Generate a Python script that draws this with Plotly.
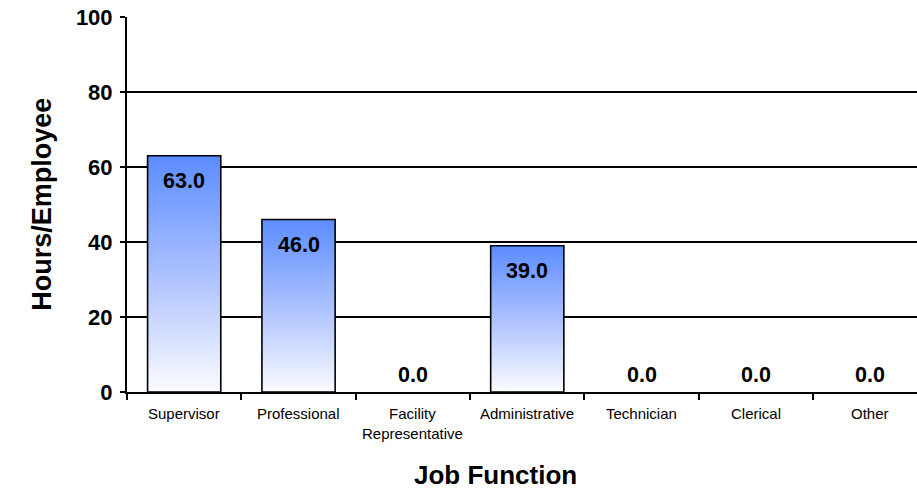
import plotly.graph_objects as go

categories = ["Supervisor", "Professional", "Facility<br>Representative", "Administrative",
              "Technician", "Clerical", "Other"]
values = [63.0, 46.0, 0.0, 39.0, 0.0, 0.0, 0.0]
y_ticks = [0, 20, 40, 60, 80, 100]

FONT = "Liberation Sans, Arial, sans-serif"
BAR_W = 0.64

fig = go.Figure()

for i, v in enumerate(values):
    if v <= 0:
        continue
    x0, x1 = i - BAR_W / 2, i + BAR_W / 2
    fig.add_trace(go.Scatter(
        x=[x0, x0, x1, x1, x0], y=[0, v, v, 0, 0],
        mode="lines", fill="toself",
        line=dict(color="black", width=1.6),
        fillgradient=dict(type="vertical",
                          colorscale=[[0, "#fbfcff"], [0.45, "#b3c6ff"], [1, "#5b8cff"]]),
        hoverinfo="skip", showlegend=False,
    ))

# value labels
for i, v in enumerate(values):
    fig.add_annotation(
        x=i, y=v, xref="x", yref="y", text=f"<b>{v:.1f}</b>", showarrow=False,
        yanchor="middle", yshift=-25 if v > 0 else 17.5,
        font=dict(family=FONT, size=21.5, color="black"),
    )

# category labels
for i, c in enumerate(categories):
    fig.add_annotation(
        x=i, y=-0.03, xref="x", yref="paper", text=c, showarrow=False,
        yanchor="top", font=dict(family=FONT, size=15, color="black"),
    )

fig.add_annotation(x=0.466, y=-0.222, xref="paper", yref="paper", text="<b>Job Function</b>",
                   showarrow=False, yanchor="middle",
                   font=dict(family=FONT, size=26, color="black"))
fig.add_annotation(x=-0.13, y=0.5, xref="paper", yref="paper", text="<b>Hours/Employee</b>",
                   showarrow=False, textangle=-90,
                   font=dict(family=FONT, size=27, color="black"))

n = len(categories)
fig.update_layout(
    width=917, height=491,
    margin=dict(l=127, r=0, t=17, b=99, autoexpand=False),
    plot_bgcolor="white", paper_bgcolor="white",
    xaxis=dict(range=[-0.5, 6.408], tickvals=[k - 0.5 for k in range(n + 1)],
               ticktext=[""] * (n + 1), ticks="outside", ticklen=6, tickwidth=1.6,
               tickcolor="black", showgrid=False, zeroline=False, automargin=False,
               showline=True, linecolor="black", linewidth=2),
    yaxis=dict(range=[0, 100], tickvals=y_ticks, ticks="outside", ticklen=5, tickwidth=1.6,
               tickcolor="black", showgrid=True, gridcolor="black", gridwidth=1.6,
               zeroline=False, showline=True, linecolor="black", linewidth=2,
               automargin=False, ticklabelstandoff=3, ticklabeloverflow="allow",
               tickfont=dict(family=FONT, size=22, color="black", weight="bold")),
)

fig.write_html("out.html", config={"displayModeBar": False},
               post_script="document.body.style.margin='0';")
